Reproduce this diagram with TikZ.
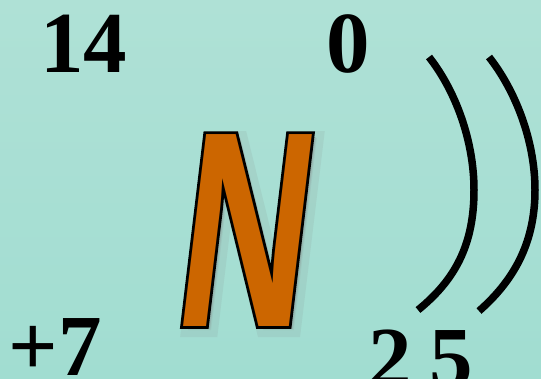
\documentclass[tikz,border=0pt]{standalone}
\usepackage{fontspec}
\setmainfont{Liberation Serif}
\newfontfamily\letterfont[FakeSlant=0.12,FakeStretch=0.645]{Liberation Sans}
\newfontfamily\letteredge[FakeSlant=0.12,FakeStretch=0.645,FakeBold=2]{Liberation Sans}
\newfontfamily\letterhalo[FakeSlant=0.12,FakeStretch=0.645,FakeBold=5]{Liberation Sans}
\usetikzlibrary{positioning}
\definecolor{seatop}{RGB}{175,225,214}
\definecolor{seabottom}{RGB}{161,221,209}
\definecolor{nitro}{RGB}{204,102,0}

\begin{document}
\begin{tikzpicture}[
  x=1pt, y=-1pt,
  num/.style={inner sep=0pt, anchor=base, font=\fontsize{87}{87}\selectfont\bfseries},
  elem/.style={inner sep=0pt, anchor=base, font=\fontsize{279}{279}\selectfont\letterfont\bfseries},
  shell/.style={line width=7.5pt, black}
]
% Background
\fill[top color=seatop, bottom color=seabottom] (0,0) rectangle (541,378);
\useasboundingbox (0,0) rectangle (541,378);

% Element symbol with soft shadow
\node[elem, text=gray, text opacity=0.12] (halo) at (241,330) {\letterhalo N};
\node[elem, text=gray, text opacity=0.25] (shadow) at (240,329) {N};
\node[elem, text=black] (edge) at (236,326) {\letteredge N};
\node[elem, text=nitro] (symbol) at (236,326) {N};

% Numbers
\node[num] (mass) at (83.5,72) {14};
\node[num] (charge) at (55,375) {+7};
\node[num] (zero) at (348.5,72) {0};
\node[num] (inner) at (390.5,387) {2};
\node[num] (outer) at (451.5,387) {5};

% Electron shells
\draw[shell] (429,57) .. controls (455,90) and (474,140) .. (474,190)
  .. controls (474,245) and (455,280) .. (418,310);
\draw[shell] (489,57) .. controls (515,90) and (535,140) .. (535,190)
  .. controls (535,245) and (512,282) .. (479,311);
\end{tikzpicture}
\end{document}
